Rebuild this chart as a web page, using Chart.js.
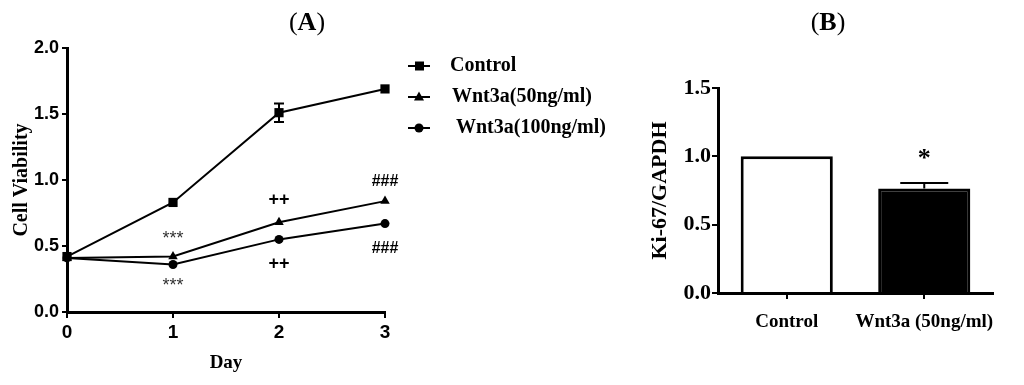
<!DOCTYPE html>
<html>
<head>
<meta charset="utf-8">
<script src="https://cdn.jsdelivr.net/npm/chart.js@4"></script>
<style>
  body { margin: 0; background: #fff; }
  #wrap { position: relative; width: 1024px; height: 385px; }
  #ca { position: absolute; left: 0; top: 0; }
  #cb { position: absolute; left: 640px; top: 0; }
  .ttl { position: absolute; top: 7px; font: bold 26px "Liberation Serif", serif; transform: translateX(-50%); }
  .ttl span { font-weight: normal; }
</style>
</head>
<body>
<div id="wrap">
  <canvas id="ca" width="640" height="385"></canvas>
  <canvas id="cb" width="384" height="385"></canvas>
  <div class="ttl" style="left:307px"><span>(</span>A<span>)</span></div>
  <div class="ttl" style="left:828px"><span>(</span>B<span>)</span></div>
</div>
<script>
// panel A
const days = ['0', '1', '2', '3'];
const control = [0.42, 0.83, 1.51, 1.69];
const controlErr = [0, 0.01, 0.07, 0.01];
const wnt50 = [0.41, 0.42, 0.68, 0.84];
const wnt100 = [0.41, 0.36, 0.55, 0.67];
const markDay = ['1', '1', '2', '2', '3', '3'];
const markVal = [0.55, 0.20, 0.85, 0.36, 0.99, 0.48];
const markText = ['***', '***', '++', '++', '###', '###'];

// panel B
const groups = ['Control', 'Wnt3a (50ng/ml)'];
const ki67 = [1.0, 0.765];
const ki67Err = [0, 0.04];
const ki67Mark = ['', '*'];

const sans = '"Liberation Sans Narrow", "Liberation Sans", Arial, sans-serif';
const serif = '"Liberation Serif", "Times New Roman", serif';

const extrasA = {
  id: 'extrasA',
  afterDatasetsDraw(chart) {
    const ctx = chart.ctx, x = chart.scales.x, y = chart.scales.y;
    ctx.save();
    ctx.strokeStyle = '#000';
    ctx.lineWidth = 2;
    // error bars on control
    control.forEach((v, i) => {
      const e = controlErr[i];
      if (e < 0.03) return;
      const px = x.getPixelForValue(i);
      const t = y.getPixelForValue(v + e), b = y.getPixelForValue(v - e);
      ctx.beginPath();
      ctx.moveTo(px, t); ctx.lineTo(px, b);
      ctx.moveTo(px - 5, t); ctx.lineTo(px + 5, t);
      ctx.moveTo(px - 5, b); ctx.lineTo(px + 5, b);
      ctx.stroke();
    });
    // significance marks
    ctx.textAlign = 'center';
    ctx.textBaseline = 'middle';
    markText.forEach((t, i) => {
      const px = x.getPixelForValue(days.indexOf(markDay[i]));
      const py = y.getPixelForValue(markVal[i]);
      if (t === '***') { ctx.font = '18px ' + sans; ctx.fillStyle = '#333'; }
      else if (t === '++') { ctx.font = 'bold 18px ' + sans; ctx.fillStyle = '#000'; }
      else { ctx.font = 'bold 16px ' + sans; ctx.fillStyle = '#000'; }
      ctx.fillText(t, px, py);
    });
    // legend
    const items = chart.data.datasets;
    const ly = [66, 97, 128], lx = [450, 452, 456];
    ctx.font = 'bold 20px ' + serif;
    ctx.textAlign = 'left';
    ctx.fillStyle = '#000';
    items.forEach((ds, i) => {
      ctx.beginPath();
      ctx.moveTo(408, ly[i]); ctx.lineTo(430, ly[i]);
      ctx.stroke();
      ctx.beginPath();
      if (ds.pointStyle === 'rect') ctx.rect(415, ly[i] - 4.5, 9, 9);
      else if (ds.pointStyle === 'triangle') { ctx.moveTo(419, ly[i] - 5.5); ctx.lineTo(424, ly[i] + 3.5); ctx.lineTo(414, ly[i] + 3.5); ctx.closePath(); }
      else ctx.arc(419, ly[i], 4.5, 0, Math.PI * 2);
      ctx.fill();
      ctx.fillText(ds.label, lx[i], ly[i]);
    });
    ctx.restore();
  }
};

function lineSet(label, data, style, r) {
  return {
    label: label, data: data, pointStyle: style, pointRadius: r,
    borderColor: '#000', backgroundColor: '#000', borderWidth: 2,
    pointBorderWidth: 0, tension: 0, clip: false
  };
}

new Chart(document.getElementById('ca'), {
  type: 'line',
  data: {
    labels: days,
    datasets: [
      lineSet('Control', control, 'rect', 6.5),
      lineSet('Wnt3a(50ng/ml)', wnt50, 'triangle', 5.5),
      lineSet('Wnt3a(100ng/ml)', wnt100, 'circle', 4.5)
    ]
  },
  options: {
    responsive: false,
    animation: false,
    layout: { padding: { left: 0, right: 255, top: 48, bottom: 0 } },
    plugins: { legend: { display: false }, tooltip: { enabled: false } },
    scales: {
      x: {
        offset: false,
        afterFit: s => { s.height = 73; },
        border: { display: true, color: '#000', width: 3 },
        grid: { drawOnChartArea: false, drawTicks: true, tickLength: 6, color: '#000', lineWidth: 2 },
        ticks: { color: '#000', font: { family: sans, size: 19, weight: 'bold' }, padding: 3, maxRotation: 0 },
        title: { display: true, text: 'Day', color: '#000', font: { family: serif, size: 19, weight: 'bold' }, padding: { top: 0, bottom: 11 } }
      },
      y: {
        min: 0, max: 2,
        afterFit: s => { s.width = 67; },
        border: { display: true, color: '#000', width: 3 },
        grid: { drawOnChartArea: false, drawTicks: true, tickLength: 5, color: '#000', lineWidth: 2 },
        ticks: { stepSize: 0.5, color: '#000', font: { family: sans, size: 18, weight: 'bold' }, padding: 3, callback: v => v.toFixed(1) },
        title: { display: true, text: 'Cell Viability', color: '#000', font: { family: serif, size: 20, weight: 'bold' }, padding: { top: 10, bottom: 0 } }
      }
    }
  },
  plugins: [extrasA]
});

const extrasB = {
  id: 'extrasB',
  afterDatasetsDraw(chart) {
    const ctx = chart.ctx, x = chart.scales.x, y = chart.scales.y;
    ctx.save();
    ctx.strokeStyle = '#000';
    ctx.fillStyle = '#000';
    ctx.lineWidth = 2;
    ki67.forEach((v, i) => {
      const px = x.getPixelForValue(i);
      if (ki67Err[i] > 0) {
        const t = y.getPixelForValue(v + ki67Err[i]), b = y.getPixelForValue(v);
        ctx.beginPath();
        ctx.moveTo(px, t); ctx.lineTo(px, b);
        ctx.moveTo(px - 24, t); ctx.lineTo(px + 24, t);
        ctx.stroke();
      }
      if (ki67Mark[i]) {
        ctx.font = 'bold 26px ' + serif;
        ctx.textAlign = 'center';
        ctx.textBaseline = 'middle';
        ctx.fillText(ki67Mark[i], px, y.getPixelForValue(v + ki67Err[i]) - 24);
      }
    });
    ctx.restore();
  }
};

new Chart(document.getElementById('cb'), {
  type: 'bar',
  data: {
    labels: groups,
    datasets: [{
      data: ki67,
      backgroundColor: ['#fff', '#000'],
      borderColor: '#000',
      borderWidth: 3,
      borderSkipped: 'bottom',
      barPercentage: 0.67,
      categoryPercentage: 1
    }]
  },
  options: {
    responsive: false,
    animation: false,
    layout: { padding: { left: 0, right: 31, top: 88, bottom: 0 } },
    plugins: { legend: { display: false }, tooltip: { enabled: false } },
    scales: {
      x: {
        afterFit: s => { s.height = 92; },
        border: { display: true, color: '#000', width: 3 },
        grid: { drawOnChartArea: false, drawTicks: true, tickLength: 6, color: '#000', lineWidth: 2, offset: false },
        ticks: { color: '#000', font: { family: serif, size: 19, weight: 'bold' }, padding: 12, maxRotation: 0, autoSkip: false }
      },
      y: {
        min: 0, max: 1.5,
        afterFit: s => { s.width = 78; },
        border: { display: true, color: '#000', width: 3 },
        grid: { drawOnChartArea: false, drawTicks: true, tickLength: 6, color: '#000', lineWidth: 2 },
        ticks: { stepSize: 0.5, color: '#000', font: { family: serif, size: 22, weight: 'bold' }, padding: 1, callback: v => v.toFixed(1) },
        title: { display: true, text: 'Ki-67/GAPDH', color: '#000', font: { family: serif, size: 22, weight: 'bold' }, padding: { top: 7, bottom: 0 } }
      }
    }
  },
  plugins: [extrasB]
});
</script>
</body>
</html>
